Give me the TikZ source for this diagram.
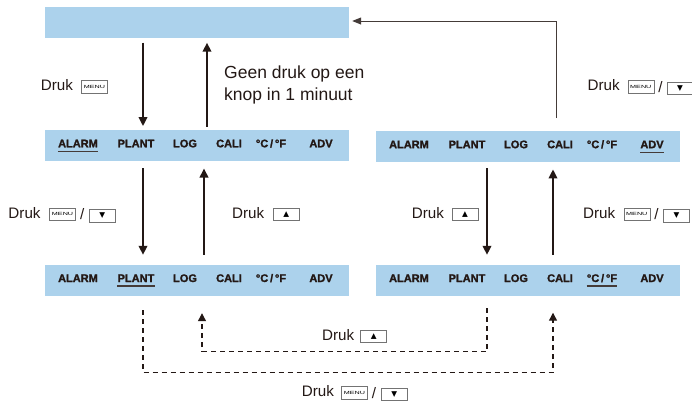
\documentclass[tikz,border=0pt]{standalone}
\usepackage{fontspec}
\setmainfont{Liberation Sans}
\newfontfamily\symbolfont{DejaVu Sans}
\newfontfamily\itemfont[FakeBold=1.5]{Liberation Sans Bold}
\newfontfamily\toetsfont[FakeStretch=1.6]{Liberation Sans}
\usetikzlibrary{positioning,arrows.meta}

\definecolor{balkblauw}{RGB}{172,210,236}
\definecolor{inkt}{RGB}{35,24,21}

\begin{document}
\begin{tikzpicture}[x=1pt, y=-1pt,
                balk/.style={rectangle, fill=balkblauw, minimum width=304pt, minimum height=31pt, inner sep=0pt},
                item/.style={font=\itemfont\fontsize{11}{11}\selectfont, text=inkt, inner sep=0pt, anchor=base},
                tekst/.style={font=\fontsize{15.2}{16}\selectfont, text=inkt, inner sep=0pt},
                toets/.style={draw=gray!90!black, line width=0.6pt, minimum width=26pt, minimum height=12.5pt,
                              inner sep=0pt, yshift=-1.5pt, font=\toetsfont\fontsize{4.5}{5}\selectfont},
                pijl/.style={draw=inkt, line width=2pt, -{Triangle[width=8.5pt,length=9pt]}},
                terug/.style={draw=inkt!85, line width=1pt, -{Triangle[width=7pt,length=9pt]}},
                stippel/.style={draw=inkt, line width=1.2pt, dash pattern=on 5pt off 4pt,
                                -{Triangle[width=8pt,length=8pt]}}]

\useasboundingbox (0,0) rectangle (692,400);

% balken
\node[balk] (scherm) at (197,22) {};
\node[balk] (menuA) at (197,145.8) {}; % ALARM gekozen
\node[balk] (menuB) at (197,280.5) {}; % PLANT gekozen
\node[balk] (menuF) at (528,146.7) {}; % ADV gekozen
\node[balk] (menuE) at (528,280.5) {}; % graden gekozen

% menu-items, met streep onder de keuze
\foreach \balk/\keuze in {menuA/1, menuB/2, menuF/6, menuE/5} {
    \foreach \dx/\woord [count=\i] in {-119/ALARM, -61/PLANT, -12/LOG, 32/CALI, 74/{°C\,/\,°F}, 124/ADV} {
        \node[item] (\balk-\i) at ([xshift=\dx pt, yshift=-1.5pt]\balk.center) {\woord};
        \ifnum\i=\keuze
            \draw[draw=inkt!85, line width=1.2pt] ([yshift=-4pt]\balk-\i.base west) -- ([yshift=-4pt]\balk-\i.base east);
        \fi
    }
}

% pijlen
\draw[pijl, shorten <=5pt, shorten >=4pt] ([xshift=-54pt]scherm.south) -- ([xshift=-54pt]menuA.north);
\draw[pijl, shorten <=3.5pt, shorten >=5pt] ([xshift=10pt]menuA.north) -- ([xshift=10pt]scherm.south);
\draw[pijl, shorten <=6.5pt, shorten >=10pt] ([xshift=-54pt]menuA.south) -- ([xshift=-54pt]menuB.north);
\draw[pijl, shorten <=10pt, shorten >=7pt] ([xshift=7pt]menuB.north) -- ([xshift=7pt]menuA.south);
\draw[pijl, shorten <=6pt, shorten >=10pt] ([xshift=-41pt]menuF.south) -- ([xshift=-41pt]menuE.north);
\draw[pijl, shorten <=10pt, shorten >=7pt] ([xshift=25pt]menuE.north) -- ([xshift=25pt]menuF.south);
\draw[terug, shorten <=13pt, shorten >=3pt] ([xshift=28pt]menuF.north) |- ([yshift=1pt]scherm.east); % terug naar scherm

% gestippelde pijlen
\draw[stippel, shorten <=14pt, shorten >=16.5pt] ([xshift=-54pt]menuB.south) -- ++(0,76.5) -| ([xshift=25pt]menuE.south);
\draw[stippel, shorten <=12pt, shorten >=17pt] ([xshift=-41pt]menuE.south) -- ++(0,55.5) -| ([xshift=5pt]menuB.south);

% teksten
\node[tekst, anchor=north west, align=left, font=\fontsize{17.5}{22.4}\selectfont] (geen) at (224,65.5)
    {Geen druk op een\\knop in 1 minuut};

\node[tekst, anchor=base west] (druk1) at (40.7,90.7) {Druk};
\node[toets, right=8pt of druk1] (menu1) {MENU};

\node[tekst, anchor=base west] (druk2) at (587.5,90.7) {Druk};
\node[toets, right=7.5pt of druk2] (menu2) {MENU};
\node[tekst, right=4pt of menu2] (schuin2) {/};
\node[toets, right=4pt of schuin2] (neer2) {\symbolfont\fontsize{7.5}{8}\selectfont ▼};

\node[tekst, anchor=base west] (druk3) at (8.3,218.3) {Druk};
\node[toets, right=8.5pt of druk3] (menu3) {MENU};
\node[tekst, right=4pt of menu3] (schuin3) {/};
\node[toets, right=4.5pt of schuin3] (neer3) {\symbolfont\fontsize{7.5}{8}\selectfont ▼};

\node[tekst, anchor=base west] (druk4) at (232,218.3) {Druk};
\node[toets, right=8.5pt of druk4] (op4) {\symbolfont\fontsize{7.5}{8}\selectfont ▲};

\node[tekst, anchor=base west] (druk5) at (411.7,218.3) {Druk};
\node[toets, right=7.5pt of druk5] (op5) {\symbolfont\fontsize{7.5}{8}\selectfont ▲};

\node[tekst, anchor=base west] (druk6) at (583,218.3) {Druk};
\node[toets, right=8pt of druk6] (menu6) {MENU};
\node[tekst, right=4pt of menu6] (schuin6) {/};
\node[toets, right=4.5pt of schuin6] (neer6) {\symbolfont\fontsize{7.5}{8}\selectfont ▼};

\node[tekst, anchor=base west] (druk7) at (322,340) {Druk};
\node[toets, right=6pt of druk7] (op7) {\symbolfont\fontsize{7.5}{8}\selectfont ▲};

\node[tekst, anchor=base west] (druk8) at (301.7,396.5) {Druk};
\node[toets, right=7pt of druk8] (menu8) {MENU};
\node[tekst, right=4pt of menu8] (schuin8) {/};
\node[toets, right=4.5pt of schuin8] (neer8) {\symbolfont\fontsize{7.5}{8}\selectfont ▼};

\end{tikzpicture}
\end{document}
